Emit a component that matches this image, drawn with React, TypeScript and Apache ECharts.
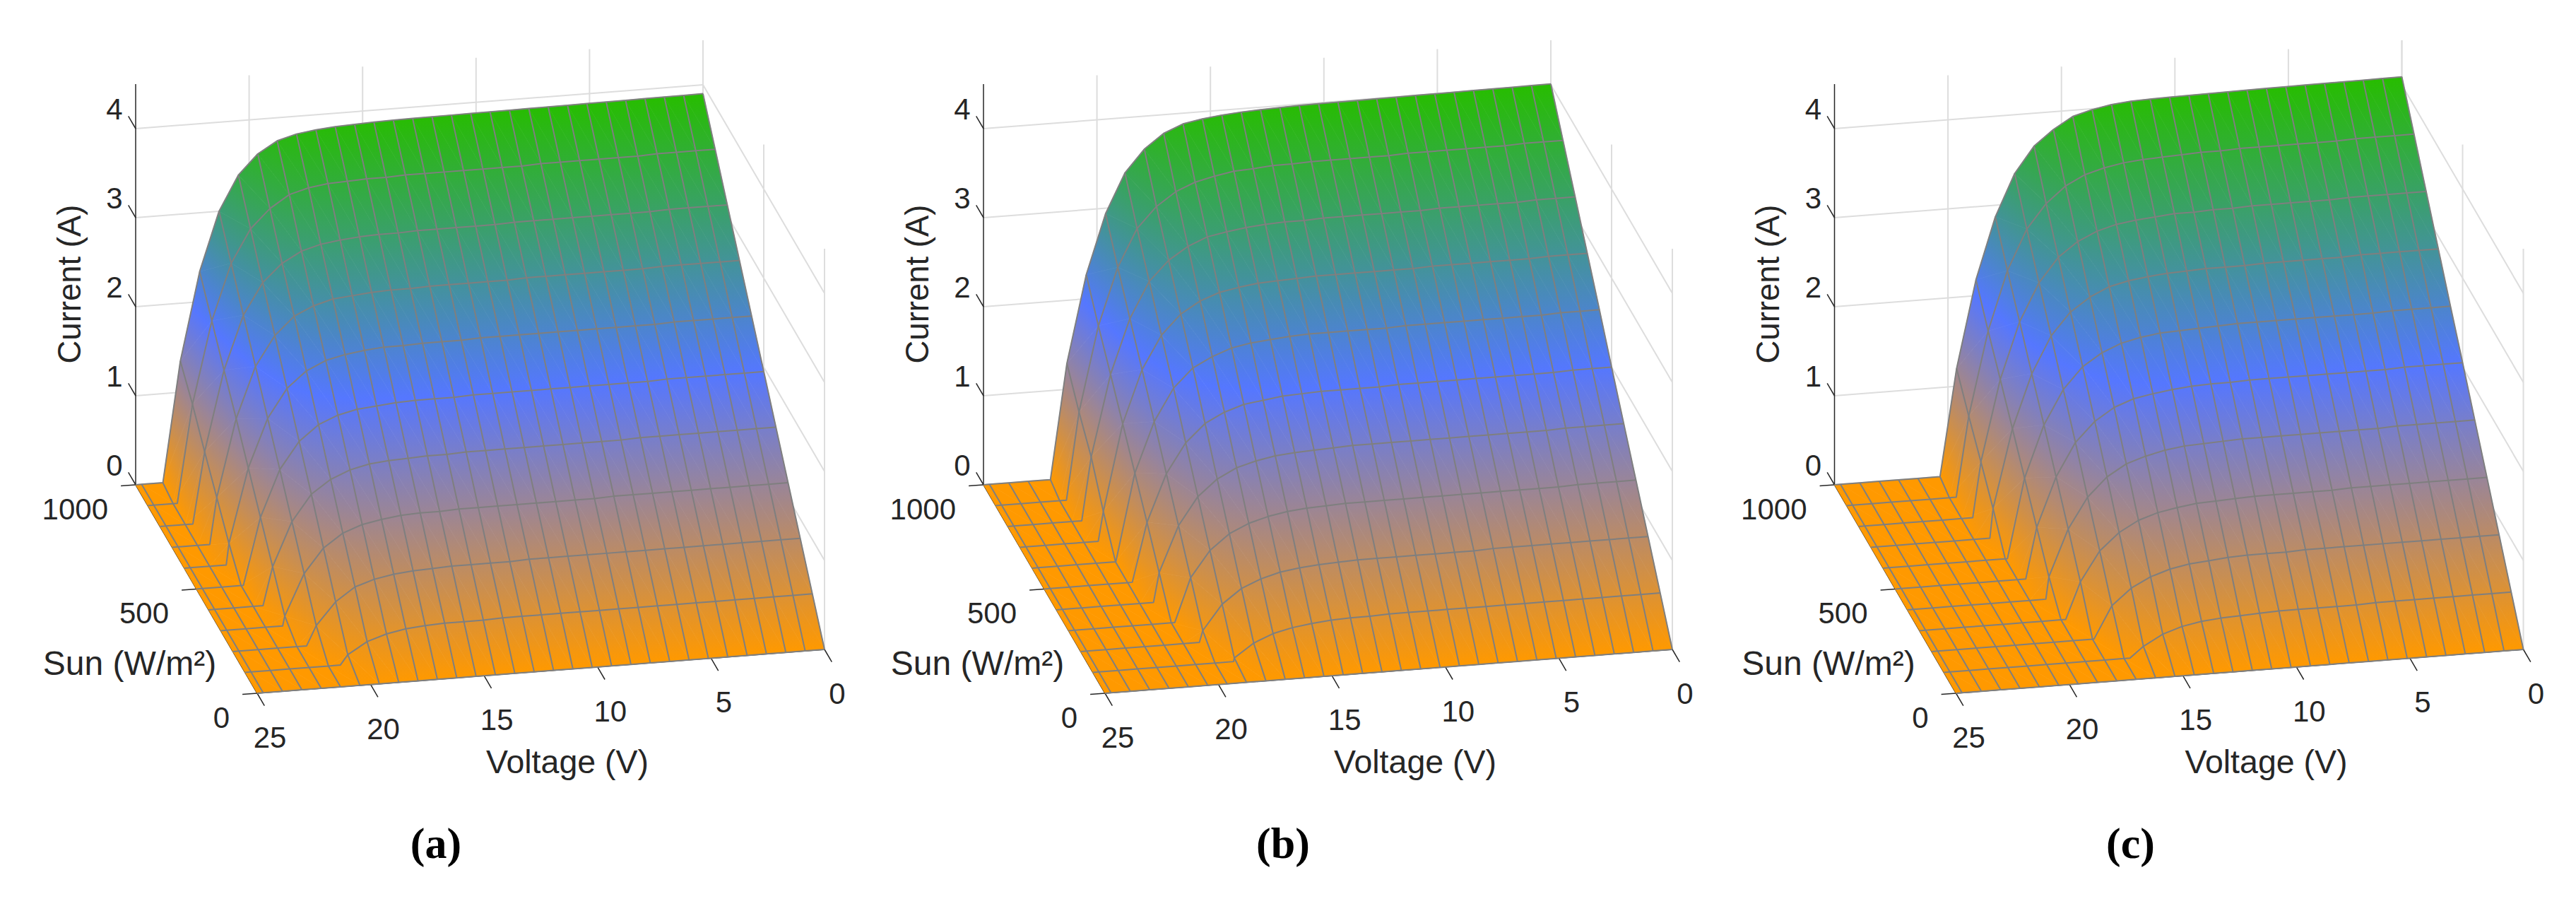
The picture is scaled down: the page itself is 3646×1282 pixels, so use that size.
import React, { useEffect, useRef } from "react";
import * as echarts from "echarts";

// ---- axes ----
const voltageGrid = [0, 0.853, 1.706, 2.559, 3.412, 4.265, 5.118, 5.971, 6.824, 7.677, 8.53, 9.383, 10.236, 11.089, 11.942, 12.795, 13.648, 14.501, 15.354, 16.207, 17.06, 17.913, 18.766, 19.619, 20.472, 21.325, 22.178, 23.031, 23.884, 24.737, 25];
const sunGrid = [0, 100, 200, 300, 400, 500, 600, 700, 800, 900, 1000];
const voltageTicks = [0, 5, 10, 15, 20, 25];
const sunTicks = [0, 500, 1000];
const currentTicks = [0, 1, 2, 3, 4];
const captions = ["(a)", "(b)", "(c)"];

// ---- open-circuit voltage of each sun level (first point where current reaches 0) ----
const vocA = [0, 20.8, 21.75, 22.27, 22.6, 22.93, 23.15, 23.34, 23.55, 23.7, 23.8];
const vocB = [0, 18.8, 19.77, 20.32, 20.72, 21.12, 21.31, 21.55, 21.74, 21.88, 22.05];
const vocC = [0, 16.8, 17.85, 18.56, 18.9, 19.25, 19.52, 19.76, 19.98, 20.17, 20.35];

// ---- current per sun level, along voltageGrid; columns not listed are 0 ----
const currentA = [
  [],
  [.39, .39, .39, .39, .39, .39, .39, .39, .39, .39, .39, .39, .39, .39, .39, .39, .39, .38, .38, .38, .37, .35, .31, .24, .11],
  [.78, .78, .78, .78, .78, .78, .78, .78, .78, .78, .78, .78, .78, .78, .78, .77, .77, .77, .77, .76, .75, .73, .69, .62, .47, .22],
  [1.17, 1.17, 1.17, 1.17, 1.17, 1.17, 1.17, 1.17, 1.17, 1.17, 1.16, 1.16, 1.16, 1.16, 1.16, 1.16, 1.16, 1.16, 1.15, 1.15, 1.14, 1.11, 1.07, .99, .84, .57, .11],
  [1.56, 1.56, 1.56, 1.56, 1.56, 1.56, 1.56, 1.56, 1.55, 1.55, 1.55, 1.55, 1.55, 1.55, 1.55, 1.55, 1.55, 1.54, 1.54, 1.53, 1.52, 1.5, 1.45, 1.36, 1.21, .92, .43],
  [1.95, 1.95, 1.95, 1.95, 1.95, 1.95, 1.94, 1.94, 1.94, 1.94, 1.94, 1.94, 1.94, 1.94, 1.94, 1.94, 1.93, 1.93, 1.93, 1.92, 1.9, 1.88, 1.83, 1.74, 1.57, 1.27, .75],
  [2.34, 2.34, 2.34, 2.34, 2.34, 2.33, 2.33, 2.33, 2.33, 2.33, 2.33, 2.33, 2.33, 2.33, 2.33, 2.32, 2.32, 2.32, 2.31, 2.31, 2.29, 2.26, 2.21, 2.11, 1.93, 1.61, 1.07, .24],
  [2.73, 2.73, 2.73, 2.73, 2.73, 2.72, 2.72, 2.72, 2.72, 2.72, 2.72, 2.72, 2.71, 2.71, 2.71, 2.71, 2.71, 2.7, 2.7, 2.69, 2.67, 2.65, 2.59, 2.49, 2.29, 1.96, 1.39, .52],
  [3.12, 3.12, 3.12, 3.12, 3.11, 3.11, 3.11, 3.11, 3.11, 3.11, 3.11, 3.11, 3.1, 3.1, 3.1, 3.1, 3.1, 3.09, 3.09, 3.08, 3.06, 3.03, 2.97, 2.85, 2.65, 2.3, 1.7, .8],
  [3.51, 3.51, 3.51, 3.51, 3.5, 3.5, 3.5, 3.5, 3.5, 3.5, 3.49, 3.49, 3.49, 3.49, 3.49, 3.49, 3.49, 3.48, 3.48, 3.47, 3.46, 3.43, 3.37, 3.23, 3.02, 2.65, 2.02, 1.1],
  [3.9, 3.898, 3.897, 3.895, 3.893, 3.891, 3.89, 3.888, 3.886, 3.885, 3.883, 3.881, 3.88, 3.878, 3.876, 3.874, 3.871, 3.866, 3.858, 3.848, 3.83, 3.8, 3.74, 3.61, 3.39, 3, 2.34, 1.35],
];
const currentB = [
  [],
  [.4, .4, .4, .4, .4, .4, .4, .4, .4, .4, .4, .4, .4, .4, .4, .39, .39, .38, .36, .33, .28, .19, .04],
  [.8, .8, .8, .8, .8, .8, .8, .8, .8, .79, .79, .79, .79, .79, .79, .79, .78, .77, .75, .72, .66, .57, .41, .13],
  [1.2, 1.2, 1.2, 1.2, 1.19, 1.19, 1.19, 1.19, 1.19, 1.19, 1.19, 1.19, 1.19, 1.19, 1.19, 1.19, 1.18, 1.17, 1.15, 1.11, 1.05, .95, .78, .49],
  [1.6, 1.6, 1.6, 1.6, 1.59, 1.59, 1.59, 1.59, 1.59, 1.59, 1.59, 1.59, 1.59, 1.59, 1.59, 1.58, 1.57, 1.56, 1.54, 1.5, 1.44, 1.33, 1.15, .84, .33],
  [2, 2, 2, 1.99, 1.99, 1.99, 1.99, 1.99, 1.99, 1.99, 1.99, 1.99, 1.98, 1.98, 1.98, 1.98, 1.97, 1.96, 1.93, 1.9, 1.83, 1.72, 1.52, 1.19, .66],
  [2.41, 2.41, 2.41, 2.4, 2.4, 2.4, 2.4, 2.4, 2.4, 2.4, 2.4, 2.39, 2.39, 2.39, 2.39, 2.39, 2.38, 2.36, 2.34, 2.3, 2.22, 2.11, 1.9, 1.54, .98],
  [2.81, 2.81, 2.81, 2.8, 2.8, 2.8, 2.8, 2.8, 2.8, 2.79, 2.79, 2.79, 2.79, 2.79, 2.79, 2.78, 2.77, 2.76, 2.73, 2.69, 2.61, 2.48, 2.26, 1.89, 1.3, .33],
  [3.21, 3.21, 3.21, 3.2, 3.2, 3.2, 3.2, 3.2, 3.19, 3.19, 3.19, 3.19, 3.19, 3.19, 3.18, 3.18, 3.17, 3.15, 3.12, 3.08, 2.99, 2.85, 2.63, 2.23, 1.62, .71],
  [3.61, 3.61, 3.61, 3.6, 3.6, 3.6, 3.6, 3.6, 3.6, 3.59, 3.59, 3.59, 3.59, 3.59, 3.58, 3.58, 3.56, 3.55, 3.51, 3.46, 3.37, 3.22, 2.99, 2.57, 1.93, .98],
  [4.01, 4.008, 4.006, 4.005, 4.003, 4.001, 3.999, 3.998, 3.996, 3.994, 3.992, 3.991, 3.989, 3.986, 3.98, 3.972, 3.962, 3.945, 3.92, 3.88, 3.79, 3.63, 3.38, 2.94, 2.27, 1.29],
];
const currentC = [
  [],
  [.41, .41, .41, .41, .41, .41, .41, .41, .4, .4, .4, .4, .4, .39, .38, .37, .35, .31, .24, .12],
  [.82, .82, .82, .82, .82, .82, .82, .82, .82, .82, .82, .81, .81, .81, .8, .78, .76, .72, .65, .54, .36],
  [1.23, 1.23, 1.23, 1.23, 1.23, 1.23, 1.23, 1.23, 1.22, 1.22, 1.22, 1.22, 1.22, 1.21, 1.2, 1.19, 1.16, 1.12, 1.05, .93, .74, .41],
  [1.64, 1.64, 1.64, 1.64, 1.64, 1.63, 1.63, 1.63, 1.63, 1.63, 1.63, 1.63, 1.63, 1.62, 1.61, 1.6, 1.57, 1.52, 1.45, 1.32, 1.11, .77, .25],
  [2.05, 2.05, 2.05, 2.05, 2.04, 2.04, 2.04, 2.04, 2.04, 2.04, 2.04, 2.04, 2.03, 2.03, 2.02, 2, 1.97, 1.93, 1.85, 1.71, 1.49, 1.12, .57],
  [2.45, 2.45, 2.45, 2.45, 2.44, 2.44, 2.44, 2.44, 2.44, 2.44, 2.44, 2.44, 2.43, 2.42, 2.41, 2.4, 2.37, 2.32, 2.23, 2.09, 1.85, 1.47, .89],
  [2.86, 2.86, 2.86, 2.86, 2.86, 2.85, 2.85, 2.85, 2.85, 2.85, 2.84, 2.84, 2.84, 2.83, 2.82, 2.8, 2.77, 2.72, 2.62, 2.47, 2.22, 1.81, 1.21, .33],
  [3.27, 3.27, 3.27, 3.27, 3.27, 3.26, 3.26, 3.26, 3.26, 3.26, 3.25, 3.25, 3.24, 3.24, 3.22, 3.2, 3.17, 3.11, 3.01, 2.85, 2.58, 2.16, 1.53, .62],
  [3.68, 3.68, 3.68, 3.68, 3.67, 3.67, 3.67, 3.67, 3.67, 3.67, 3.66, 3.66, 3.65, 3.64, 3.63, 3.61, 3.57, 3.51, 3.4, 3.22, 2.95, 2.5, 1.84, .9],
  [4.09, 4.088, 4.086, 4.085, 4.083, 4.081, 4.079, 4.077, 4.075, 4.072, 4.069, 4.066, 4.062, 4.058, 4.05, 4.03, 3.99, 3.93, 3.8, 3.63, 3.34, 2.87, 2.18, 1.2],
];

const panels = [
  { current: currentA, voc: vocA, left: 0, caption: 617 },
  { current: currentB, voc: vocB, left: 1200, caption: 616 },
  { current: currentC, voc: vocC, left: 2404.5, caption: 611 },
];

// ---- view: orthographic projection of MATLAB's 3-D axes, onto page pixels of each panel ----
const project = (v: number, s: number, i: number): [number, number] => [
  1167 - 32.12 * v - 0.172 * s,
  919 + 2.48 * v - 0.295 * s - 126 * i,
];

const ORANGE = [255, 153, 0];
const BLUE = [85, 119, 255];
const GREEN = [39, 189, 0];
const GREY = "#7f7f7f";
const WALL = "#dddddd";
const INK = "#262626";
const SANS = "'Liberation Sans', Arial, sans-serif";
const Z_TOP = 4.5;

const mix = (a: number[], b: number[], t: number) =>
  `rgb(${Math.round(a[0] + (b[0] - a[0]) * t)},${Math.round(a[1] + (b[1] - a[1]) * t)},${Math.round(a[2] + (b[2] - a[2]) * t)})`;
const colorOf = (z: number, top: number) => {
  const t = Math.max(0, Math.min(1, z / top));
  return t < 0.5 ? mix(ORANGE, BLUE, t * 2) : mix(BLUE, GREEN, (t - 0.5) * 2);
};

function triangle(pts: number[][], zs: number[], top: number) {
  const [p0, p1, p2] = pts;
  const dx1 = p1[0] - p0[0], dy1 = p1[1] - p0[1], dx2 = p2[0] - p0[0], dy2 = p2[1] - p0[1];
  const dz1 = zs[1] - zs[0], dz2 = zs[2] - zs[0];
  const det = dx1 * dy2 - dx2 * dy1;
  const zMin = Math.min(...zs), zMax = Math.max(...zs);
  let fill: any = colorOf((zMin + zMax) / 2, top);
  if (Math.abs(det) > 1e-6 && zMax - zMin > 1e-4) {
    const a = (dz1 * dy2 - dz2 * dy1) / det;
    const b = (dx1 * dz2 - dx2 * dz1) / det;
    const start = pts[zs.indexOf(zMin)];
    const k = (zMax - zMin) / (a * a + b * b);
    const stops = [{ offset: 0, color: colorOf(zMin, top) }];
    if (zMin < top / 2 && zMax > top / 2) {
      stops.push({ offset: (top / 2 - zMin) / (zMax - zMin), color: colorOf(top / 2, top) });
    }
    stops.push({ offset: 1, color: colorOf(zMax, top) });
    fill = new echarts.graphic.LinearGradient(start[0], start[1], start[0] + a * k, start[1] + b * k, stops, true);
  }
  return {
    type: "polygon",
    shape: { points: pts },
    style: { fill, stroke: fill, lineWidth: 0.7 },
  };
}

function panelSeries(panel: (typeof panels)[number], index: number) {
  const n = voltageGrid.length;
  const valueAt = (i: number, k: number) => panel.current[i][k] ?? 0;
  const firstZero = (i: number) => panel.current[i].length;
  const top = panel.current[10][0];
  // the back edge is the outline of the surface, so it bends at its own open-circuit voltage
  const voltageAt = (i: number, k: number) => (i === 10 && k === firstZero(10) ? panel.voc[10] : voltageGrid[k]);
  const base = { xAxisIndex: index, yAxisIndex: index, silent: true, clip: false, animation: false };

  // wall grid, axis lines, tick marks: [v1, s1, i1, v2, s2, i2, kind]
  const segments: number[][] = [];
  voltageTicks.forEach((v) => {
    if (v !== 25) segments.push([v, 1000, 0, v, 1000, Z_TOP, 0]);
  });
  sunTicks.forEach((s) => segments.push([0, s, 0, 0, s, Z_TOP, 0]));
  currentTicks.forEach((c) => {
    segments.push([0, 1000, c, 25, 1000, c, 0]);
    segments.push([0, 0, c, 0, 1000, c, 0]);
    segments.push([25, 1000, c, 25, 1060, c, 1]);
  });
  sunTicks.forEach((s) => segments.push([25, s, 0, 25.65, s, 0, 1]));
  voltageTicks.forEach((v) => segments.push([v, 0, 0, v, -60, 0, 1]));
  segments.push([25, 1000, 0, 25, 1000, Z_TOP, 1]);
  segments.push([25, 0, 0, 25, 1000, 0, 1]);
  segments.push([0, 0, 0, 25, 0, 0, 1]);

  const cells: number[][] = [];
  for (let i = 0; i < sunGrid.length - 1; i++) for (let k = 0; k < n - 1; k++) cells.push([k, i]);

  // wires: [0, row] along a sun level, [1, column] along a voltage
  const wires: number[][] = [];
  sunGrid.forEach((_, i) => wires.push([0, i]));
  for (let k = 0; k < n - 1; k++) wires.push([1, k]);

  const labels: any[] = [];
  currentTicks.forEach((c) => {
    const p = project(25, 1000, c);
    labels.push({ text: String(c), x: p[0] - 30, y: p[1] - 28, align: "center", size: 42 });
  });
  sunTicks.forEach((s) => {
    const p = project(25, s, 0);
    labels.push({ text: String(s), x: p[0] - 39, y: p[1] + 34, align: "right", size: 42 });
  });
  voltageTicks.forEach((v) => {
    const p = project(v, 0, 0);
    labels.push({ text: String(v), x: p[0] + 18, y: p[1] + 62.5, align: "center", size: 42 });
  });
  labels.push({ text: "Current (A)", x: 98, y: 402, align: "center", size: 45.5, rotate: true });
  labels.push({ text: "Sun (W/m²)", x: 183.5, y: 938, align: "center", size: 48 });
  labels.push({ text: "Voltage (V)", x: 803, y: 1078, align: "center", size: 46.5 });
  labels.push({ text: captions[index], x: panel.caption, y: 1193, align: "center", size: 62, caption: true });

  return [
    {
      ...base,
      type: "custom",
      z: 1,
      data: segments,
      renderItem: (_: any, api: any) => {
        const p1 = project(api.value(0), api.value(1), api.value(2));
        const p2 = project(api.value(3), api.value(4), api.value(5));
        const a = api.coord(p1), b = api.coord(p2);
        const kind = api.value(6);
        return {
          type: "line",
          shape: { x1: a[0], y1: a[1], x2: b[0], y2: b[1] },
          style: { stroke: kind === 0 ? WALL : INK, lineWidth: kind === 0 ? 2 : 1.5 },
        };
      },
    },
    {
      ...base,
      type: "custom",
      z: 2,
      data: cells,
      renderItem: (_: any, api: any) => {
        const k = api.value(0), i = api.value(1);
        const corner = (r: number, c: number) => api.coord(project(voltageAt(r, c), sunGrid[r], valueAt(r, c)));
        const a = corner(i, k), b = corner(i, k + 1), c = corner(i + 1, k + 1), d = corner(i + 1, k);
        const za = valueAt(i, k), zb = valueAt(i, k + 1), zc = valueAt(i + 1, k + 1), zd = valueAt(i + 1, k);
        return {
          type: "group",
          children: [triangle([a, b, c], [za, zb, zc], top), triangle([a, c, d], [za, zc, zd], top)],
        };
      },
    },
    {
      ...base,
      type: "custom",
      z: 3,
      data: wires,
      renderItem: (_: any, api: any) => {
        const kind = api.value(0), idx = api.value(1);
        const pts: number[][] = [];
        if (kind === 0) {
          for (let k = 0; k < n; k++) {
            if (k === firstZero(idx) && idx > 0) pts.push(api.coord(project(panel.voc[idx], sunGrid[idx], 0)));
            pts.push(api.coord(project(voltageGrid[k], sunGrid[idx], valueAt(idx, k))));
          }
        } else {
          sunGrid.forEach((s, i) => pts.push(api.coord(project(voltageAt(i, idx), s, valueAt(i, idx)))));
        }
        return {
          type: "polyline",
          shape: { points: pts },
          style: { fill: "none", stroke: GREY, lineWidth: 2, lineJoin: "round" },
        };
      },
    },
    {
      ...base,
      type: "custom",
      z: 4,
      data: labels.map((_, i) => [i, 0]),
      renderItem: (params: any, api: any) => {
        const item = labels[params.dataIndex];
        const p = api.coord([item.x, item.y]);
        return {
          type: "text",
          x: p[0],
          y: p[1],
          rotation: item.rotate ? Math.PI / 2 : 0,
          style: {
            text: item.text,
            x: 0,
            y: 0,
            align: item.align,
            verticalAlign: "middle",
            fill: item.caption ? "#000000" : INK,
            fontSize: item.size,
            fontWeight: item.caption ? "bold" : "normal",
            fontFamily: item.caption ? "'Liberation Serif', serif" : SANS,
          },
        };
      },
    },
  ];
}

export default function App() {
  const ref = useRef<HTMLDivElement>(null);
  useEffect(() => {
    document.body.style.margin = "0";
    document.body.style.overflow = "hidden";
    const chart = echarts.init(ref.current!, undefined, { renderer: "svg" });
    chart.setOption({
      animation: false,
      backgroundColor: "#ffffff",
      grid: panels.map((p) => ({ left: p.left, top: 0, width: 1240, height: 1282, containLabel: false })),
      xAxis: panels.map((_, i) => ({ type: "value", gridIndex: i, min: 0, max: 1240, show: false })),
      yAxis: panels.map((_, i) => ({ type: "value", gridIndex: i, min: 0, max: 1282, inverse: true, show: false })),
      series: panels.flatMap((p, i) => panelSeries(p, i)),
    });
    return () => chart.dispose();
  }, []);
  return <div ref={ref} style={{ position: "absolute", left: 0, top: 0, width: 3646, height: 1282 }} />;
}
